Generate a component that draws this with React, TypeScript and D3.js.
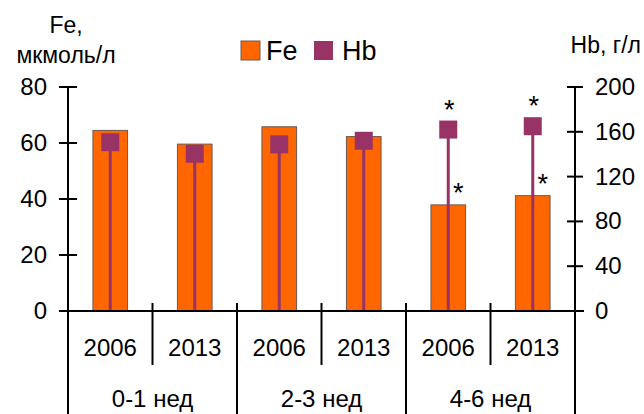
import React from 'react';
import * as d3 from 'd3';

// Fe bars (мкмоль/л) and Hb markers (г/л) per period and year
const groups = ['0-1 нед', '2-3 нед', '4-6 нед'];
const years = ['2006', '2013'];
const feValues = [64.5, 59.6, 65.8, 62.3, 37.9, 41.2];
const hbValues = [150.7, 140.4, 148.8, 152, 162, 165];
const significant = [false, false, false, false, true, true];
const feTicks = [0, 20, 40, 60, 80];
const hbTicks = [0, 40, 80, 120, 160, 200];

const FE_COLOR = '#ff6600';
const HB_COLOR = '#993366';
const FONT = '"Liberation Sans", Arial, sans-serif';

const W = 644;
const H = 414;
const left = 68;
const right = 575;
const top = 87;
const bottom = 311;

export default function App() {
  const cats = groups.flatMap((g, gi) => years.map((yr, yi) => ({ g, yr, i: gi * years.length + yi })));

  const x = d3.scaleBand<number>()
    .domain(cats.map(c => c.i))
    .range([left, right])
    .padding(0);
  const yFe = d3.scaleLinear().domain([0, 80]).range([bottom, top]);
  const yHb = d3.scaleLinear().domain([0, 200]).range([bottom, top]);

  const bw = x.bandwidth() * 0.41;
  const ms = 18;
  const groupWidth = x.bandwidth() * years.length;

  return (
    <svg width={W} height={H} style={{ position: 'absolute', left: 0, top: 0 }} fontFamily={FONT}>
      <rect width={W} height={H} fill="#fff" />

      {/* bars */}
      {cats.map(c => {
        const cx = x(c.i)! + x.bandwidth() / 2;
        return (
          <rect key={'b' + c.i} x={cx - bw / 2} y={yFe(feValues[c.i])} width={bw}
            height={bottom - yFe(feValues[c.i])} fill={FE_COLOR} stroke="#6b5a52" strokeWidth={1} />
        );
      })}

      {/* Hb drop lines and markers */}
      {cats.map(c => {
        const cx = x(c.i)! + x.bandwidth() / 2;
        const cy = yHb(hbValues[c.i]);
        return (
          <g key={'h' + c.i}>
            <line x1={cx} x2={cx} y1={cy} y2={bottom} stroke={HB_COLOR} strokeWidth={3} />
            <rect x={cx - ms / 2} y={cy - ms / 2} width={ms} height={ms} fill={HB_COLOR} />
          </g>
        );
      })}

      {/* significance marks */}
      {cats.filter(c => significant[c.i]).map(c => {
        const cx = x(c.i)! + x.bandwidth() / 2;
        return (
          <g key={'s' + c.i} fontSize={27} textAnchor="middle">
            <text x={cx + 1} y={yHb(hbValues[c.i]) - 11}>*</text>
            <text x={cx + 10} y={yFe(feValues[c.i]) - 3}>*</text>
          </g>
        );
      })}

      {/* left axis */}
      <line x1={left} x2={left} y1={top} y2={H} stroke="#000" strokeWidth={2} />
      {feTicks.map(t => (
        <g key={'lf' + t}>
          <line x1={left - 9} x2={left + 9} y1={yFe(t)} y2={yFe(t)} stroke="#000" strokeWidth={2} />
          <text x={47} y={yFe(t) + 8} textAnchor="end" fontSize={24}>{t}</text>
        </g>
      ))}

      {/* right axis */}
      <line x1={right} x2={right} y1={top} y2={H} stroke="#000" strokeWidth={2} />
      {hbTicks.map(t => (
        <g key={'rh' + t}>
          <line x1={right - 8} x2={right + 8} y1={yHb(t)} y2={yHb(t)} stroke="#000" strokeWidth={2} />
          <text x={595} y={yHb(t) + 8} fontSize={24}>{t}</text>
        </g>
      ))}

      {/* x axis */}
      <line x1={left - 9} x2={right + 9} y1={bottom} y2={bottom} stroke="#000" strokeWidth={2} />
      {cats.map(c => {
        const cx = x(c.i)! + x.bandwidth() / 2;
        const x0 = x(c.i)!;
        const groupStart = c.i % years.length === 0;
        return (
          <g key={'x' + c.i}>
            {c.i > 0 && (
              <line x1={x0} x2={x0} y1={bottom - 8} y2={groupStart ? H : 365} stroke="#000" strokeWidth={2} />
            )}
            <text x={cx} y={356} textAnchor="middle" fontSize={24}>{c.yr}</text>
          </g>
        );
      })}
      {groups.map((g, gi) => (
        <text key={'g' + g} x={left + groupWidth * (gi + 0.5)} y={407} textAnchor="middle" fontSize={24}>{g}</text>
      ))}

      {/* axis titles */}
      <text x={66} y={33} textAnchor="middle" fontSize={23}>Fe,</text>
      <text x={66} y={63} textAnchor="middle" fontSize={23}>мкмоль/л</text>
      <text x={641} y={53} textAnchor="end" fontSize={23}>Hb, г/л</text>

      {/* legend */}
      <rect x={241} y={41} width={19} height={19} fill={FE_COLOR} stroke="#6b5a52" strokeWidth={1} />
      <text x={266} y={60} fontSize={27}>Fe</text>
      <rect x={314} y={41} width={19} height={19} fill={HB_COLOR} />
      <text x={342} y={60} fontSize={27}>Hb</text>
    </svg>
  );
}
